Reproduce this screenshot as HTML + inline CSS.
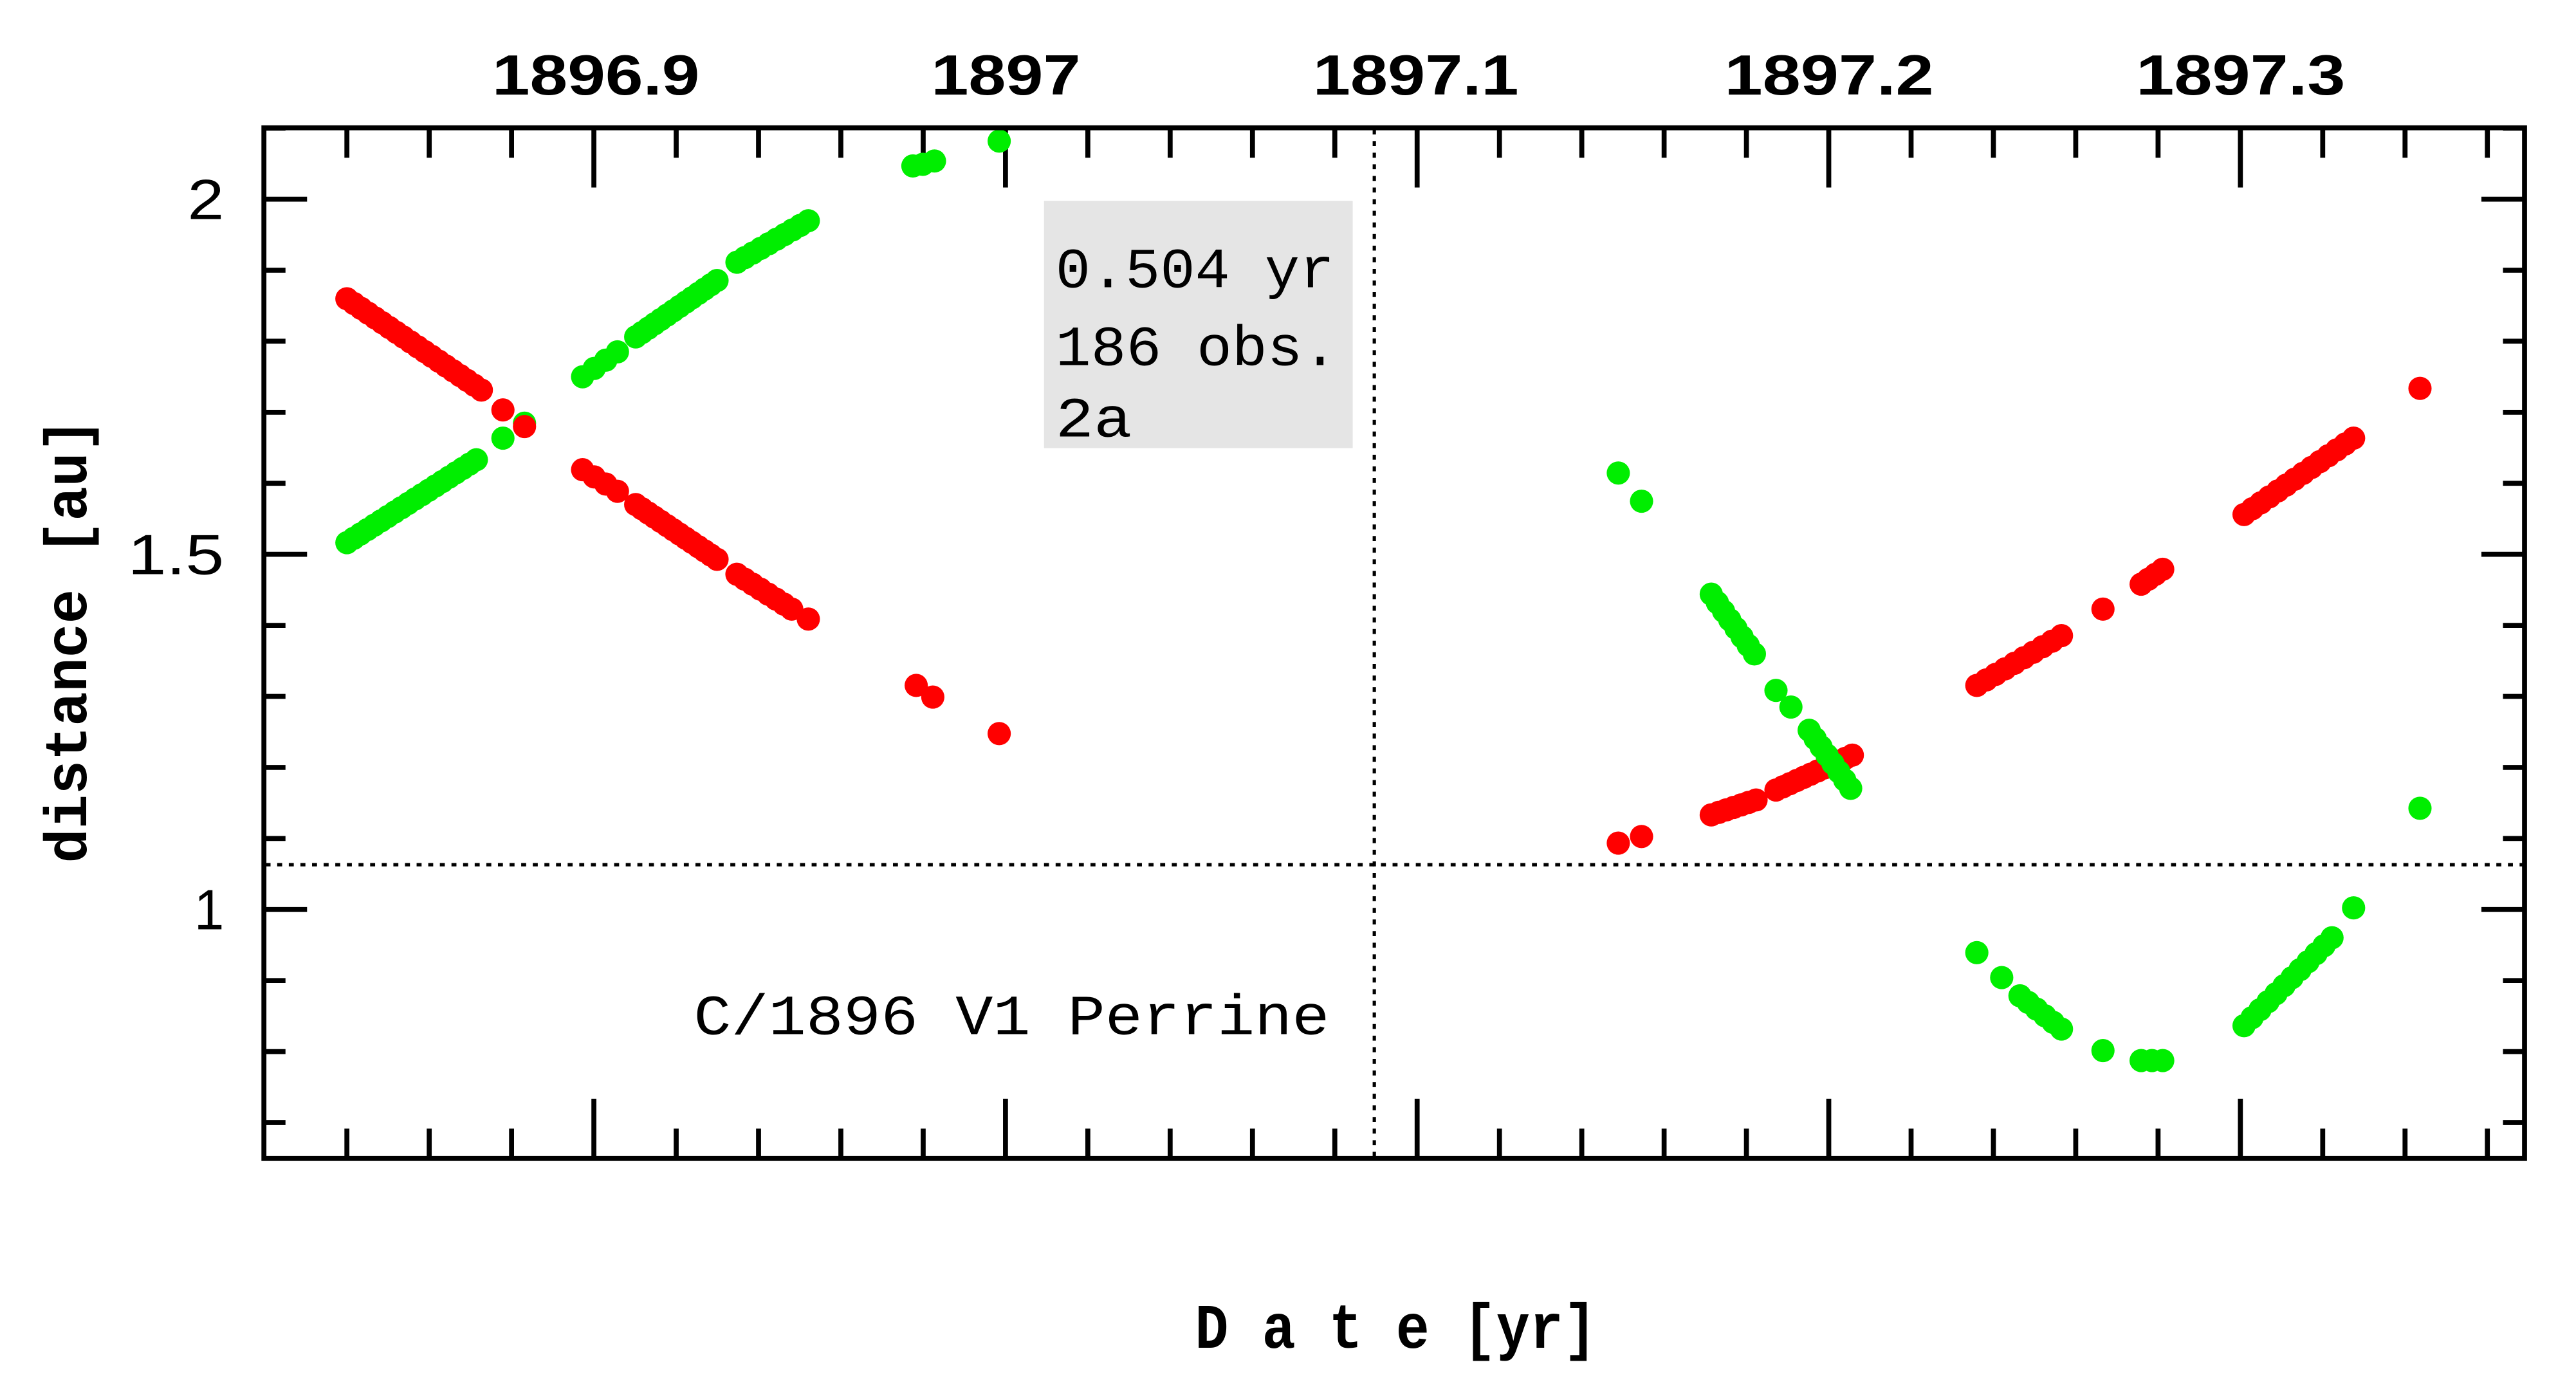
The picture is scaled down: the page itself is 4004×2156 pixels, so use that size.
<!DOCTYPE html>
<html><head><meta charset="utf-8"><style>html,body{margin:0;padding:0;background:#fff}svg{display:block}</style></head>
<body>
<svg id="s" width="4004" height="2156" viewBox="0 0 1552 835.7" preserveAspectRatio="none" xmlns="http://www.w3.org/2000/svg" font-family="Liberation Sans, sans-serif">
<rect width="1552" height="836" fill="#fff"/>
<rect x="629" y="121" width="186" height="149" fill="#e5e5e5"/>
<line x1="828" y1="78" x2="828" y2="697" stroke="#000" stroke-width="2" stroke-dasharray="3,4"/>
<line x1="160" y1="521" x2="1520" y2="521" stroke="#000" stroke-width="2" stroke-dasharray="3,4"/>
<g id="ticks" stroke="#000" stroke-width="3"></g>
<g id="dots"></g>
<rect x="159" y="77" width="1362" height="621" fill="none" stroke="#000" stroke-width="3"/>
<g font-weight="bold" font-size="34" text-anchor="middle">
<text x="359" y="57" textLength="125" lengthAdjust="spacingAndGlyphs">1896.9</text>
<text x="606" y="57" textLength="90" lengthAdjust="spacingAndGlyphs">1897</text>
<text x="853" y="57" textLength="124" lengthAdjust="spacingAndGlyphs">1897.1</text>
<text x="1102" y="57" textLength="126" lengthAdjust="spacingAndGlyphs">1897.2</text>
<text x="1350" y="57" textLength="126" lengthAdjust="spacingAndGlyphs">1897.3</text>
</g>
<g font-size="34" text-anchor="end">
<text x="135" y="132" textLength="22" lengthAdjust="spacingAndGlyphs">2</text>
<text x="135" y="346" textLength="58" lengthAdjust="spacingAndGlyphs">1.5</text>
<text x="135" y="560" textLength="18" lengthAdjust="spacingAndGlyphs">1</text>
</g>
<g font-size="34" font-family="Liberation Mono, monospace">
<text x="636" y="173" textLength="168" lengthAdjust="spacingAndGlyphs">0.504 yr</text>
<text x="636" y="220" textLength="170" lengthAdjust="spacingAndGlyphs">186 obs.</text>
<text x="636" y="263" textLength="46" lengthAdjust="spacingAndGlyphs">2a</text>
<text x="418" y="623" textLength="383" lengthAdjust="spacingAndGlyphs">C/1896 V1 Perrine</text>
</g>
<text x="720" y="812" font-size="38" font-weight="bold" font-family="Liberation Mono, monospace" textLength="242" lengthAdjust="spacingAndGlyphs">D a t e [yr]</text>
<text transform="translate(52,386) rotate(-90)" font-size="36" font-weight="bold" font-family="Liberation Mono, monospace" text-anchor="middle" textLength="268" lengthAdjust="spacingAndGlyphs">distance [au]</text>
</svg>
<script>
var NS="http://www.w3.org/2000/svg";
var t=document.getElementById('ticks');
function ln(a,b,c,d){var l=document.createElementNS(NS,'line');l.setAttribute('x1',a);l.setAttribute('y1',b);l.setAttribute('x2',c);l.setAttribute('y2',d);t.appendChild(l);}
for(var i=0;i<28;i++){var x=209+i*49.6;if(x>1520)break;var maj=((i-3)%5==0);var L=maj?36:18;ln(x,77,x,77+L);ln(x,698,x,698-L);}
for(var v=0.7;v<2.11;v+=0.1){var y=548-(v-1)*428;var maj=Math.abs(v*2-Math.round(v*2))<0.01;var L=maj?26:13;ln(159,y,159+L,y);ln(1521,y,1521-L,y);}
var d=document.getElementById('dots');
function dot(x,y,c){var e=document.createElementNS(NS,'circle');e.setAttribute('cx',x);e.setAttribute('cy',y);e.setAttribute('r',7);e.setAttribute('fill',c);d.appendChild(e);}
function seg(x1,y1,x2,y2,n,c){for(var i=0;i<n;i++){var f=n>1?i/(n-1):0;dot(x1+(x2-x1)*f,y1+(y2-y1)*f,c);}}
var R='#f00',G='#0e0';
seg(209,327,287,277,20,G);dot(303,264,G);dot(316,255,G);
seg(351,227,372,212,4,G);seg(383,203,432,169,14,G);seg(444,158,487,133,10,G);
dot(550,100,G);dot(556,99,G);dot(563,97,G);dot(602,85,G);
seg(209,180,290,235,20,R);dot(303,247,R);dot(316,257,R);
seg(351,283,372,296,4,R);seg(383,304,432,337,14,R);seg(444,346,477,367,8,R);dot(487,373,R);
dot(552,413,R);dot(562,420,R);dot(602,442,R);
dot(975,508,R);dot(989,504,R);seg(1031,491,1058,482,7,R);seg(1070,476,1116,455,12,R);
seg(1191,413,1242,383,10,R);dot(1267,367,R);seg(1290,352,1303,343,4,R);seg(1352,310,1418,264,14,R);dot(1458,234,R);
dot(975,285,G);dot(989,302,G);seg(1031,358,1057,394,8,G);dot(1070,416,G);dot(1079,426,G);seg(1090,440,1115,475,8,G);
dot(1191,574,G);dot(1206,589,G);seg(1217,600,1242,620,6,G);dot(1267,633,G);seg(1290,639,1303,639,3,G);
seg(1352,618,1405,565,12,G);dot(1418,547,G);dot(1458,487,G);
</script>
</body></html>
